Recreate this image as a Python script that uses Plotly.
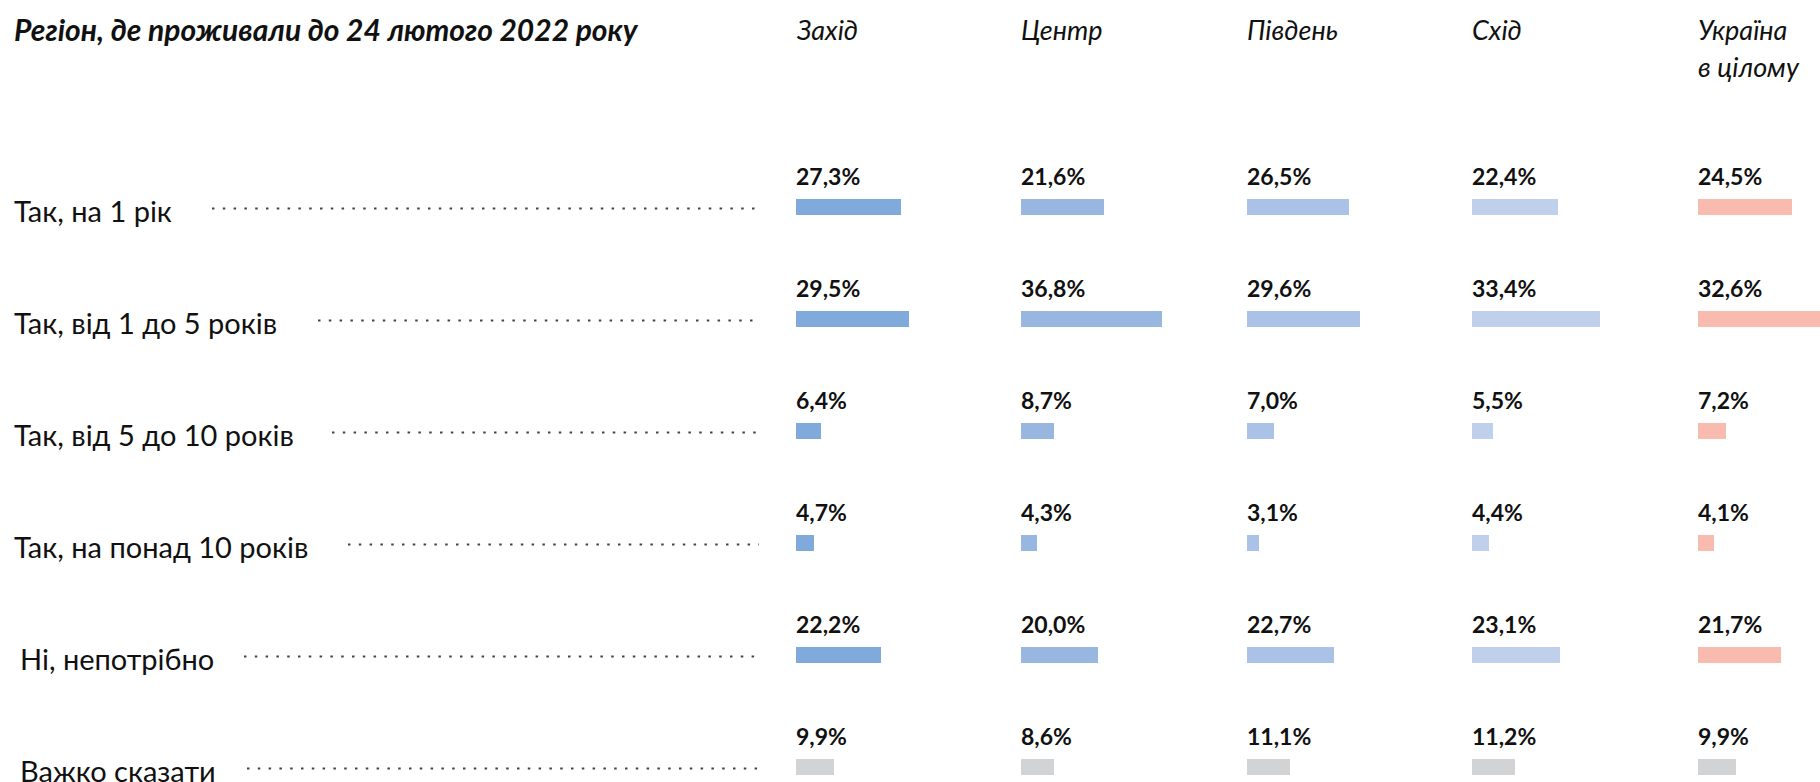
import plotly.graph_objects as go

W, H = 1820, 782

categories = ["Так, на 1 рік", "Так, від 1 до 5 років", "Так, від 5 до 10 років",
              "Так, на понад 10 років", "Ні, непотрібно", "Важко сказати"]
regions = [["Захід"], ["Центр"], ["Південь"], ["Схід"], ["Україна", "в цілому"]]
title_text = "Регіон, де проживали до 24 лютого 2022 року"

zahid = [27.3, 29.5, 6.4, 4.7, 22.2, 9.9]
centr = [21.6, 36.8, 8.7, 4.3, 20.0, 8.6]
pivden = [26.5, 29.6, 7.0, 3.1, 22.7, 11.1]
skhid = [22.4, 33.4, 5.5, 4.4, 23.1, 11.2]
ukraine = [24.5, 32.6, 7.2, 4.1, 21.7, 9.9]
series = [zahid, centr, pivden, skhid, ukraine]

colors = ["#80AADB", "#97B6E0", "#ABC2E7", "#BFD0EC", "#F8BBAE"]
gray = "#D2D3D5"

# layout (pixels)
col_x = [796, 1021, 1247, 1472, 1698]
px_per_pct = 3.83
row0_px = 206.6
row_step = 112.0
bar_px = 16
label_x = [14, 14, 14, 14, 20, 20]
dots_start = [212, 318, 332, 348, 244, 247]
dots_end = 759
header_y = [29, 66]

def py(px):
    return 1 - px / H

yr = [(H - row0_px) / row_step, -row0_px / row_step]

fig = go.Figure()
font = "Lato"
ann = []
shapes = []
rows = list(range(len(categories)))

for k, (vals, col) in enumerate(zip(series, colors)):
    ax = "" if k == 0 else str(k + 1)
    x0 = col_x[k]
    x1 = col_x[k + 1] if k + 1 < len(col_x) else W
    bar_colors = [col] * (len(vals) - 1) + [gray]
    fig.add_trace(go.Bar(
        x=vals, y=rows, orientation="h", marker=dict(color=bar_colors, line_width=0),
        width=bar_px / row_step, xaxis="x" + ax, yaxis="y", hoverinfo="skip",
        showlegend=False))
    fig.update_layout(**{
        "xaxis" + ax: dict(domain=[x0 / W, x1 / W], range=[0, (x1 - x0) / px_per_pct],
                           visible=False, fixedrange=True)
    })
    for r, v in enumerate(vals):
        ann.append(dict(xref="x" + ax, yref="y", x=0, y=r - 31 / row_step,
                        text=("%.1f%%" % v).replace(".", ","), showarrow=False,
                        xanchor="left", yanchor="middle", xshift=-2,
                        font=dict(family=font, size=23, color="#111111", weight="bold")))
    for li, line in enumerate(regions[k]):
        ann.append(dict(xref="paper", yref="paper", x=x0 / W, y=py(header_y[li]),
                        text="<i>" + line + "</i>",
                        showarrow=False, xanchor="left", yanchor="middle", xshift=-2,
                        font=dict(family=font, size=27, color="#111111")))

ann.append(dict(xref="paper", yref="paper", x=14 / W, y=py(header_y[0]),
                text="<b><i>" + title_text + "</i></b>",
                showarrow=False, xanchor="left", yanchor="middle", xshift=-2,
                font=dict(family=font, size=30, color="#111111")))

for r, cat in enumerate(categories):
    ann.append(dict(xref="paper", yref="y", x=label_x[r] / W, y=r + 4 / row_step, text=cat,
                    showarrow=False, xanchor="left", yanchor="middle", xshift=-2,
                    font=dict(family=font, size=29, color="#111111")))
    shapes.append(dict(type="line", xref="paper", yref="y", x0=dots_start[r] / W, x1=dots_end / W,
                       y0=r + 2 / row_step, y1=r + 2 / row_step,
                       line=dict(color="#444444", width=2, dash="2.5px,8.3px")))

fig.update_layout(
    width=W, height=H, margin=dict(l=0, r=0, t=0, b=0),
    paper_bgcolor="white", plot_bgcolor="rgba(0,0,0,0)",
    yaxis=dict(range=yr, visible=False, fixedrange=True),
    annotations=ann, shapes=shapes, bargap=0, showlegend=False,
)

fig.write_html("out.html", config={"displayModeBar": False},
               post_script="document.body.style.margin='0';document.body.style.overflow='hidden';")
